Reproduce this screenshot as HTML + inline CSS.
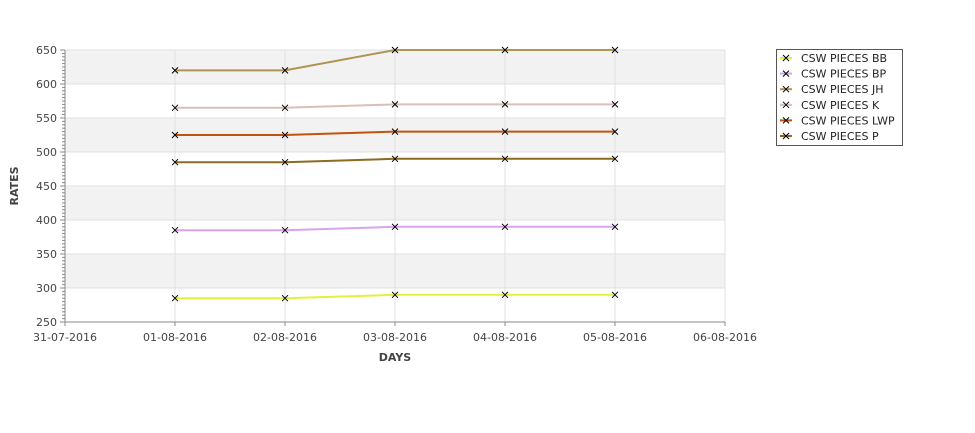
<!DOCTYPE html>
<html><head><meta charset="utf-8"><style>
body{margin:0;background:#fff;font-family:"DejaVu Sans","Liberation Sans",sans-serif;}
svg text{font-family:"DejaVu Sans","Liberation Sans",sans-serif;}
</style></head><body>
<svg id="chart" width="975" height="429" xmlns="http://www.w3.org/2000/svg"></svg>
<script>
const dates=["31-07-2016","01-08-2016","02-08-2016","03-08-2016","04-08-2016","05-08-2016","06-08-2016"];
const yTicks=[250,300,350,400,450,500,550,600,650];
const seriesNames=["CSW PIECES BB","CSW PIECES BP","CSW PIECES JH","CSW PIECES K","CSW PIECES LWP","CSW PIECES P"];
const seriesColors=["#e2f23c","#d9a3f2","#b09452","#d8c0b8","#c2530e","#8c6c1e"];
const bbValues=[285,285,290,290,290];
const bpValues=[385,385,390,390,390];
const jhValues=[620,620,650,650,650];
const kValues=[565,565,570,570,570];
const lwpValues=[525,525,530,530,530];
const pValues=[485,485,490,490,490];
const allValues=[bbValues,bpValues,jhValues,kValues,lwpValues,pValues];
const X0=65,X1=725,Y0=322,Y1=50;
const xs=i=>X0+(X1-X0)*i/(dates.length-1);
const ys=v=>Y0-(v-250)/(650-250)*(Y0-Y1);
const svg=document.getElementById('chart');
const NS="http://www.w3.org/2000/svg";
function mk(tag,attrs,parent){const e=document.createElementNS(NS,tag);for(const k in attrs)e.setAttribute(k,attrs[k]);(parent||svg).appendChild(e);return e;}
// bands
for(let i=0;i<yTicks.length-1;i++){
 const top=yTicks[yTicks.length-1-i],bot=yTicks[yTicks.length-2-i];
 const r=mk('rect',{x:X0,y:ys(top),width:X1-X0,height:ys(bot)-ys(top),fill:i%2===0?'#f2f2f2':'#ffffff'});
 
 
}
yTicks.forEach(v=>{
 const l=mk('line',{x1:X0,x2:X1,y1:ys(v),y2:ys(v),stroke:'#e0e0e0'});
 
 
 const t=mk('text',{x:X0-8,y:ys(v)+4,'text-anchor':'end','font-size':11,fill:'#444'});
 t.textContent=v;
 
 
 mk('line',{x1:X0-5,x2:X0,y1:ys(v),y2:ys(v),stroke:'#888'});
});
for(let v=250;v<650;v+=5){if(v%50)mk('line',{x1:X0-3,x2:X0,y1:ys(v),y2:ys(v),stroke:'#888'});}
dates.forEach((d,i)=>{
 const l=mk('line',{x1:xs(i),x2:xs(i),y1:Y1,y2:Y0,stroke:'#e0e0e0'});
 
 
 mk('line',{x1:xs(i),x2:xs(i),y1:Y0,y2:Y0+4,stroke:'#888'});
 const t=mk('text',{x:xs(i),y:Y0+19,'text-anchor':'middle','font-size':11,fill:'#444'});
 t.textContent=d;
 
 
});
mk('line',{x1:X0,x2:X0,y1:Y1,y2:Y0,stroke:'#888'});
mk('line',{x1:X0,x2:X1,y1:Y0,y2:Y0,stroke:'#888'});
const yt=mk('text',{x:18,y:186,'text-anchor':'middle','font-size':11,'font-weight':'bold',fill:'#444',transform:'rotate(-90 18 186)'});
yt.textContent='RATES';


const xt=mk('text',{x:395,y:361,'text-anchor':'middle','font-size':11,'font-weight':'bold',fill:'#444'});
xt.textContent='DAYS';


function cross(x,y,g){mk('path',{d:`M${x-3} ${y-3}L${x+3} ${y+3}M${x-3} ${y+3}L${x+3} ${y-3}`,stroke:'#000','stroke-width':1},g);}
allValues.forEach((vals,s)=>{
 const g=mk('g',{});
 
 
 const pts=vals.map((v,i)=>xs(i+1)+','+ys(v)).join(' ');
 mk('polyline',{points:pts,fill:'none',stroke:seriesColors[s],'stroke-width':2},g);
 vals.forEach((v,i)=>cross(xs(i+1),ys(v),g));
});
// legend
const lg=mk('g',{});


mk('rect',{x:776.5,y:49.5,width:126,height:96,fill:'#fff',stroke:'#555'},lg);
seriesNames.forEach((n,s)=>{
 const y=58+s*15.6;
 const e=mk('g',{},lg);
 
 
 mk('line',{x1:780,x2:792,y1:y,y2:y,stroke:seriesColors[s],'stroke-width':2},e);
 cross(786,y,e);
 const t=mk('text',{x:801,y:y+4,'font-size':11,fill:'#222'},e);
 t.textContent=n;
});
</script>
</body></html>
